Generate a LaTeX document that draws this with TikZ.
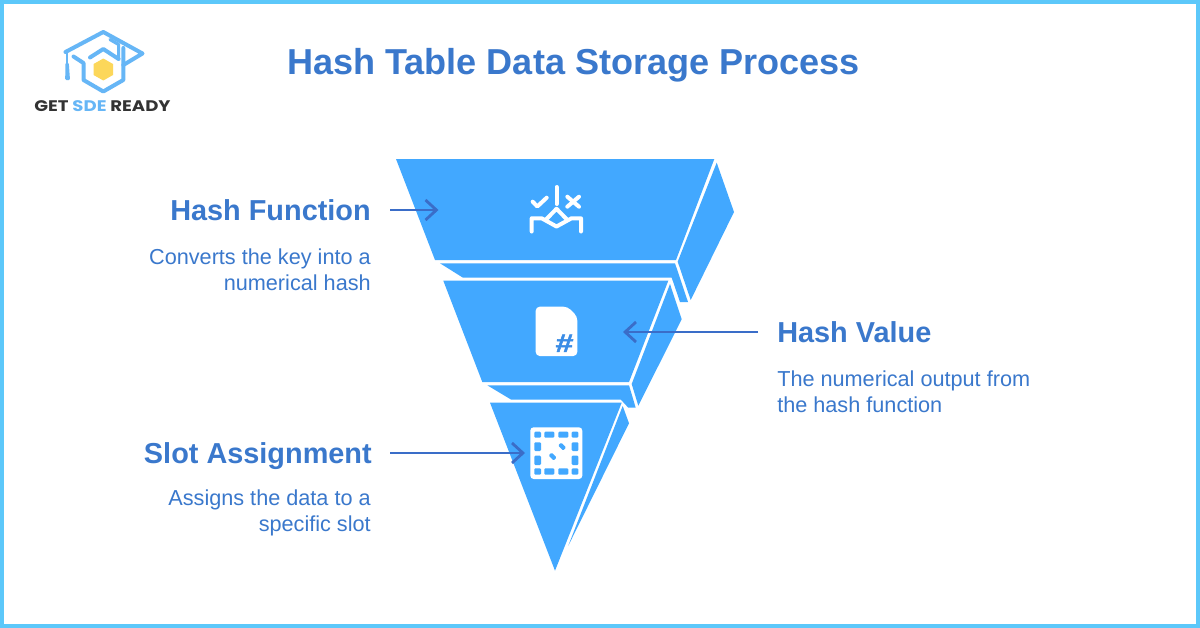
\documentclass[tikz,border=0pt]{standalone}
\usepackage{fontspec}
\setmainfont{Liberation Sans}
\newfontfamily\logofont{Poppins}[FakeStretch=1.18]
\newfontfamily\hashfont{Liberation Sans}[UprightFont=* Bold,FakeBold=2,FakeStretch=1.25,FakeSlant=0.06]
\usetikzlibrary{arrows.meta}
\definecolor{bluefill}{HTML}{42A8FF}
\definecolor{textblue}{HTML}{3A78CC}
\definecolor{arrowblue}{HTML}{3A6DC8}
\definecolor{framecyan}{HTML}{5CC8FA}
\definecolor{logoblue}{HTML}{66B6F6}
\definecolor{logoyellow}{HTML}{FCD75A}
\definecolor{logodark}{HTML}{333333}
\definecolor{hashblue}{HTML}{3A8CE6}
\tikzset{
  x=0.75pt,y=-0.75pt,
  solid3d/.style={fill=bluefill,draw=none},
  heading/.style={font=\bfseries\fontsize{21.65}{24}\selectfont,text=textblue,inner sep=0pt,text height=20pt,text depth=4.4pt},
  desc/.style={font=\fontsize{16.25}{19.5}\selectfont,text=textblue,inner sep=0pt},
  conn/.style={draw=arrowblue,line width=2.1pt,-{Straight Barb[length=8.2pt,width=15pt,line width=2.1pt]}},
  iconline/.style={draw=white,line width=3pt,line cap=round,line join=round},
  logoline/.style={draw=logoblue,line width=3pt,line cap=round,line join=round},
  cell/.style={fill=bluefill,rounded corners=0.8pt,draw=none}
}
\begin{document}
\begin{tikzpicture}
\useasboundingbox (0,0) rectangle (1200,628);
\fill[white] (0,0) rectangle (1200,628);
\draw[framecyan,line width=3pt] (2,2) rectangle (1198,626);

% logo
\fill[logoyellow] (103.3,58.5) -- (113,64) -- (113,75) -- (103.3,80.5) -- (93.6,75) -- (93.6,64) -- cycle;
\draw[logoline] (65.5,52) -- (103.3,32) -- (142.5,53.5) -- (123.3,65);
\draw[logoline,line width=2.4pt] (110,39.5) -- (118.6,44.5) -- (118.6,59);
\draw[logoline] (118.6,59) -- (103.3,49) -- (90,57.5);
\draw[logoline] (73.5,56.5) -- (83.5,63) -- (83.5,80) -- (103.3,91.5) -- (123.3,80) -- (123.3,48);
\draw[logoline,line width=2pt] (67,53) -- (67,64);
\fill[logoblue,rounded corners=0.8pt] (65.4,63) -- (68.8,63) -- (70,80) -- (65.2,80) -- cycle;
\node[font=\logofont\bfseries\fontsize{11.5}{12}\selectfont,text=logodark,inner sep=0pt,anchor=center] (logotext) at (102.5,106.3) {GET \textcolor{logoblue}{SDE} READY};

% title
\node[font=\bfseries\fontsize{27.05}{32}\selectfont,text=textblue,inner sep=0pt,anchor=center] (title) at (573.5,65) {Hash Table Data Storage Process};

% funnel
\path[solid3d] (396,159) -- (714.3,159) -- (676,260) -- (435,260) -- cycle;
\path[solid3d] (716.7,162.7) -- (734,212) -- (690.7,300) -- (677.7,261.7) -- cycle;
\path[solid3d] (440,263.3) -- (675,263.3) -- (688,302) -- (680,302) -- (671.7,277.7) -- (463,277.7) -- cycle;
\path[solid3d] (443.3,280.7) -- (668.3,280.7) -- (629,382) -- (482.3,382) -- cycle;
\path[solid3d] (670,284) -- (681.7,319.3) -- (638.3,405.7) -- (631.7,384) -- cycle;
\path[solid3d] (487.3,385.3) -- (629,385.3) -- (635.7,407.7) -- (628.3,407.7) -- (620.7,399.5) -- (511,399.5) -- cycle;
\path[solid3d] (490,402.7) -- (621.7,402.7) -- (555,570.7) -- cycle;
\path[solid3d] (622.7,406) -- (629,423.3) -- (568.3,545.7) -- cycle;

% icon: decision
\draw[iconline] (556.5,187) -- (556.5,204);
\draw[iconline] (531.7,231.5) -- (531.7,218.3) -- (541.7,218.3) -- (556.5,226.5) -- (571.5,218.3) -- (581,218.3) -- (581,231.5);
\draw[iconline] (546,219.5) -- (556.5,208.8) -- (567,219.5);
\draw[iconline] (532.7,201.7) -- (537.3,206.5) -- (546.7,197.7);
\draw[iconline] (567.3,196.7) -- (579,206.7);
\draw[iconline] (579,196.7) -- (567.3,206.7);

% icon: document
\fill[white,rounded corners=3pt] (535.7,306.7) -- (567.5,306.7) -- (577.3,316.5) -- (577.3,356) -- (535.7,356) -- cycle;
\node[font=\hashfont\fontsize{19}{20}\selectfont,text=hashblue,inner sep=0pt] (hashsign) at (564,343.2) {\#};

% icon: board
\fill[white,rounded corners=2.5pt] (530.3,427.3) rectangle (582.3,479);
\foreach \xa/\xb in {534.3/541,544.3/554.3,558.3/568.3,571.7/578.3}{
  \path[cell] (\xa,431.7) rectangle (\xb,437.7);
  \path[cell] (\xa,468.3) rectangle (\xb,474.7);
}
\foreach \xa in {534.3,571.7}{
  \path[cell] (\xa,442.3) rectangle (\xa+6.7,451);
  \path[cell] (\xa,455.7) rectangle (\xa+6.7,465);
}
\path[cell] (558,445.5) -- (561,442.5) -- (566,447.5) -- (563,450.5) -- cycle;
\path[cell] (548.5,455.5) -- (551.5,452.5) -- (556.5,457.5) -- (553.5,460.5) -- cycle;

% labels
\node[heading,anchor=east] (hf) at (371,210) {Hash Function};
\node[desc,anchor=east,align=right] (hfd) at (371,270) {Converts the key into a\\numerical hash};
\node[heading,anchor=west] (hv) at (777,332) {Hash Value};
\node[desc,anchor=west,align=left] (hvd) at (777,392) {The numerical output from\\the hash function};
\node[heading,anchor=east] (sa) at (372,453) {Slot Assignment};
\node[desc,anchor=east,align=right] (sad) at (371,513) {Assigns the data to a\\specific slot};

% connectors
\coordinate (tipf) at (438.5,210);
\coordinate (tipv) at (623,332);
\coordinate (tips) at (525,453);
\draw[conn,shorten <=14.25pt] (hf.east) -- (tipf);
\draw[conn,shorten <=14.25pt] (hv.west) -- (tipv);
\draw[conn,shorten <=13.5pt] (sa.east) -- (tips);
\end{tikzpicture}
\end{document}
